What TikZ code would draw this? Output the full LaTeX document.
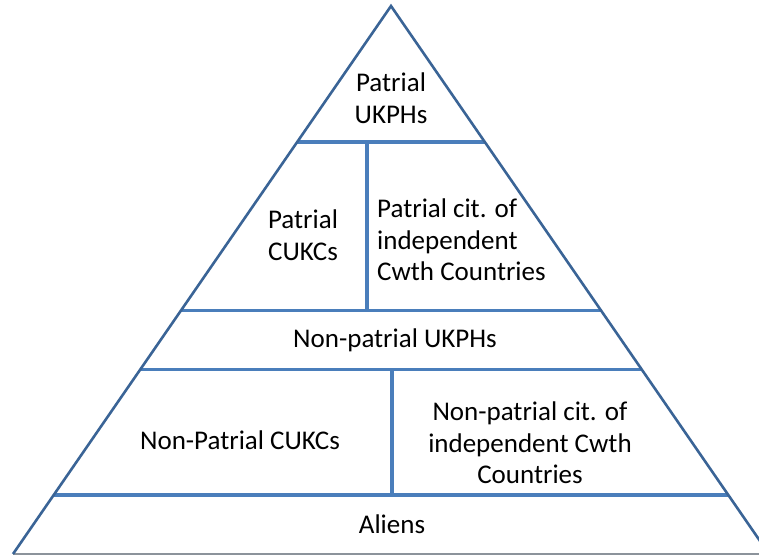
\documentclass[tikz,border=0pt]{standalone}
\usepackage{fontspec}
\setmainfont{Carlito}
\definecolor{edgeblue}{HTML}{3A6496}
\definecolor{lineblue}{HTML}{4A7EBB}
\definecolor{basegray}{HTML}{8C939B}
\begin{document}
\begin{tikzpicture}[x=1pt,y=-1pt,
  edge/.style={draw=edgeblue,line width=2.6pt},
  divider/.style={draw=lineblue,line width=3.2pt},
  lbl/.style={font=\fontsize{27}{31.5}\selectfont,align=center,inner sep=0pt,text=black},
  lbll/.style={lbl,align=left}]
\useasboundingbox (0,0) rectangle (759,554);
\clip (0,0) rectangle (759,554);
% triangle
\coordinate (apex) at (391,6);
\coordinate (bl) at (13,554);
\coordinate (br) at (769,554);
% dividers
\coordinate (l1) at (297,142);   \coordinate (r1) at (485,142);
\coordinate (l2) at (181,310.5); \coordinate (r2) at (601,310.5);
\coordinate (l3) at (140,369.5); \coordinate (r3) at (642,369.5);
\coordinate (l4) at (53.6,495);  \coordinate (r4) at (728.4,495);
\coordinate (v1t) at (367,142);  \coordinate (v1b) at (367,310.5);
\coordinate (v2t) at (392,369.5);\coordinate (v2b) at (392,495);
\draw[divider] (l1) -- (r1);
\draw[divider] (l2) -- (r2);
\draw[divider] (l3) -- (r3);
\draw[divider] (l4) -- (r4);
\draw[divider] (v1t) -- (v1b);
\draw[divider] (v2t) -- (v2b);
\draw[draw=basegray,line width=1.6pt] (bl) -- (br);
\draw[edge,line join=miter] (bl) -- (apex) -- (br);
% labels
\node[lbl] (pukph) at (391,98) {Patrial\\UKPHs};
\node[lbl] (pcukc) at (303,235) {Patrial\\CUKCs};
\node[lbll,anchor=west] (pcit) at (377,240) {Patrial cit. of\\independent\\Cwth Countries};
\node[lbl] (npukph) at (395,340) {Non-patrial UKPHs};
\node[lbl] (npcukc) at (240,440) {Non-Patrial CUKCs};
\node[lbl] (npcit) at (530,443) {Non-patrial cit. of\\independent Cwth\\Countries};
\node[lbl] (aliens) at (392,524) {Aliens};
\end{tikzpicture}
\end{document}
